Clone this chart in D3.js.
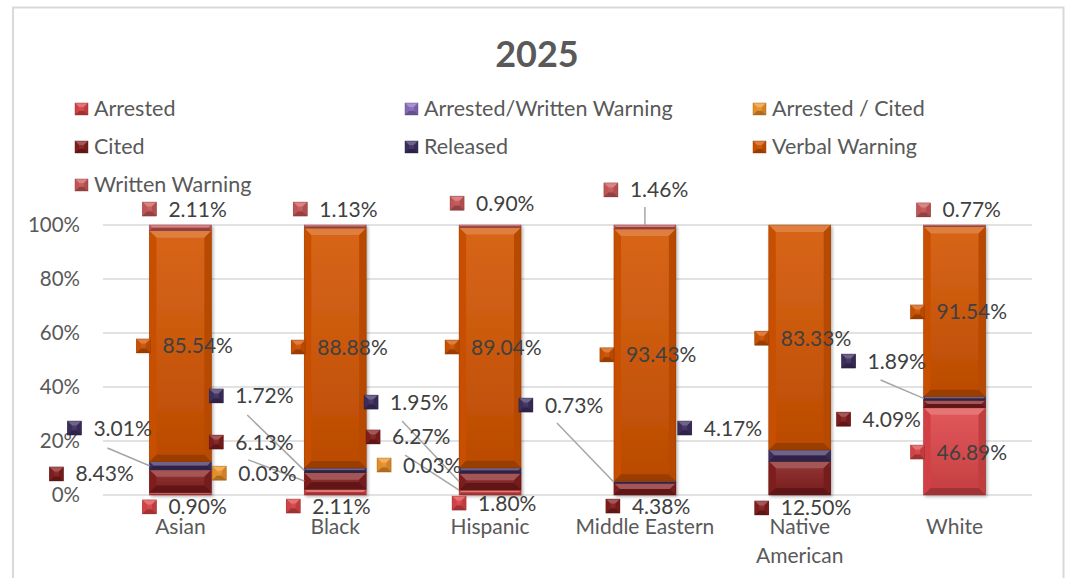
<!DOCTYPE html>
<html><head><meta charset="utf-8">
<script src="https://cdn.jsdelivr.net/npm/d3@7"></script>
<style>html,body{margin:0;padding:0;background:#fff;} svg{display:block;font-family:Lato,"Open Sans",sans-serif;}</style>
</head><body><svg id="c" width="1066" height="578"></svg>
<script>
// ---------------- data ----------------
const title = "2025";
const categories = ["Asian","Black","Hispanic","Middle Eastern","Native American","White"];
const seriesNames = ["Arrested","Arrested/Written Warning","Arrested / Cited","Cited","Released","Verbal Warning","Written Warning"];
const arrested        = [0.90, 2.11, 1.80, null, null, 46.89];
const arrestedWritten = [null, null, null, null, null, null];
const arrestedCited   = [null, 0.03, 0.03, null, null, null];
const cited           = [8.43, 6.13, 6.27, 4.38, 12.50, 4.09];
const released        = [3.01, 1.72, 1.95, 0.73, 4.17, 1.89];
const verbal          = [85.54, 88.88, 89.04, 93.43, 83.33, 91.54];
const written         = [2.11, 1.13, 0.90, 1.46, null, 0.77];
const yTicks = [0, 0.2, 0.4, 0.6, 0.8, 1];
const yTickLabels = ["0%","20%","40%","60%","80%","100%"];

// ---------------- styles / layout ----------------
const colors = ["#de4548","#8b6fc0","#f0962a","#861f1f","#3f2f62","#d35400","#cc5a5a"];
// label placement: [category, series, dx from band centre (px), vertical position (share of axis)]
const labelLayout = [
 [0,6,-31,1.059],[0,5,-37,0.552],[0,4,-106,0.248],[0,3,-124,0.078],[0,0,-31,-0.044],
 [1,6,-35,1.059],[1,5,-37,0.548],[1,4,-119,0.367],[1,3,-119,0.196],[1,2,-116,0.081],[1,0,-42,-0.041],
 [2,6,-33,1.081],[2,5,-38,0.548],[2,4,-119,0.344],[2,3,-117,0.215],[2,2,-106,0.111],[2,0,-31,-0.030],
 [3,6,-34,1.13],[3,5,-38,0.519],[3,4,-119,0.333],[3,3,-32,-0.041],
 [4,5,-38,0.581],[4,4,-115,0.248],[4,3,-38,-0.048],
 [5,6,-31,1.056],[5,5,-37,0.678],[5,4,-106,0.496],[5,3,-111,0.281],[5,0,-37,0.159]
];
// leader lines: [category, series, start dx, start share, to top-centre]
const leaderLayout = [
 [0,4,-73,0.174,false],[1,4,-88,0.296,false],[1,3,-87,0.130,false],
 [2,3,-88,0.274,false],[2,2,-85,0.148,false],[3,4,-88,0.267,false],
 [3,6,0,1.067,true],[5,4,-74,0.426,false]
];

const seriesValues = [arrested, arrestedWritten, arrestedCited, cited, released, verbal, written];
const table = categories.map((c,i)=>{
  const o = {cat:c};
  seriesNames.forEach((s,j)=>{ o[s] = seriesValues[j][i] == null ? 0 : seriesValues[j][i]; });
  return o;
});
const stacked = d3.stack().keys(seriesNames).offset(d3.stackOffsetExpand)(table);

const svg = d3.select("#c");
const defs = svg.append("defs");
const sh = defs.append("filter").attr("id","shadow").attr("x","-20%").attr("y","-20%").attr("width","140%").attr("height","140%");
sh.append("feDropShadow").attr("dx",1.5).attr("dy",1.5).attr("stdDeviation",1.5).attr("flood-color","#000").attr("flood-opacity",0.3);
const fg = defs.append("linearGradient").attr("id","face").attr("x1",0).attr("y1",0).attr("x2",0).attr("y2",1);
fg.append("stop").attr("offset","0%").attr("stop-color","#fff").attr("stop-opacity",0.10);
fg.append("stop").attr("offset","100%").attr("stop-color","#000").attr("stop-opacity",0.12);

// frame
svg.append("rect").attr("x",13).attr("y",7.5).attr("width",1050.5).attr("height",600)
  .attr("fill","none").attr("stroke","#d9d9d9").attr("stroke-width",2);

const x = d3.scaleBand().domain(categories).range([103,1032]).paddingInner(0.6).paddingOuter(0.3);
const y = d3.scaleLinear().domain([0,1]).range([495,225]);

// title
svg.append("text").attr("x",537).attr("y",67).attr("text-anchor","middle")
  .attr("font-size",36).attr("font-weight","bold").attr("fill","#595959").text(title);

// gridlines + y labels
svg.append("g").selectAll("line").data(yTicks).join("line")
  .attr("x1",103).attr("x2",1032).attr("y1",d=>y(d)).attr("y2",d=>y(d))
  .attr("stroke","#d9d9d9").attr("stroke-width",1.5);
svg.append("g").selectAll("text").data(yTicks).join("text")
  .attr("x",80).attr("y",d=>y(d)+7).attr("text-anchor","end")
  .attr("font-size",20.5).attr("fill","#595959").text((d,i)=>yTickLabels[i]);

function bevel(g, x0, y0, w, h, color, b){
  const c = d3.color(color);
  const bb = Math.max(0, Math.min(b, h/2, w/2));
  g.append("rect").attr("x",x0).attr("y",y0).attr("width",w).attr("height",h).attr("fill",c.formatHex());
  g.append("rect").attr("x",x0).attr("y",y0).attr("width",w).attr("height",h).attr("fill","url(#face)");
  if (bb > 0.3){
    const x1=x0+w, y1=y0+h;
    const P = pts=>pts.map(p=>p.join(",")).join(" ");
    g.append("polygon").attr("points",P([[x0,y0],[x1,y0],[x1-bb,y0+bb],[x0+bb,y0+bb]]))
      .attr("fill",d3.interpolateRgb(c.formatHex(),"#ffffff")(0.25));
    g.append("polygon").attr("points",P([[x0,y0],[x0+bb,y0+bb],[x0+bb,y1-bb],[x0,y1]]))
      .attr("fill",c.darker(0.15).formatHex());
    g.append("polygon").attr("points",P([[x1,y0],[x1-bb,y0+bb],[x1-bb,y1-bb],[x1,y1]]))
      .attr("fill",c.darker(0.4).formatHex());
    g.append("polygon").attr("points",P([[x0,y1],[x0+bb,y1-bb],[x1-bb,y1-bb],[x1,y1]]))
      .attr("fill",c.darker(0.9).formatHex());
  }
  g.append("rect").attr("x",x0).attr("y",y0).attr("width",w).attr("height",h)
    .attr("fill","none").attr("stroke",c.darker(1.2).formatHex()).attr("stroke-width",0.6).attr("stroke-opacity",0.7);
}

// bars
const barsG = svg.append("g").attr("filter","url(#shadow)");
stacked.forEach((layer,j)=>{
  layer.forEach((d,i)=>{
    const h = y(d[0]) - y(d[1]);
    if (h <= 0) return;
    bevel(barsG.append("g"), x(categories[i]), y(d[1]), x.bandwidth(), h, colors[j], 7);
  });
});

// category labels
categories.forEach(c=>{
  const t = svg.append("text").attr("x",x(c)+x.bandwidth()/2).attr("y",534).attr("text-anchor","middle")
    .attr("font-size",21).attr("fill","#595959").text(c);
  if (t.node().getComputedTextLength() > 142){
    t.text(null);
    c.split(" ").forEach((w,k)=>t.append("tspan").attr("x",x(c)+x.bandwidth()/2).attr("dy",k?29:0).text(w));
  }
});

// leader lines
leaderLayout.forEach(([ci,si,dx,at,top])=>{
  const c = categories[ci];
  const d = stacked[si][ci];
  const cx = x(c)+x.bandwidth()/2;
  const ex = top ? cx : x(c);
  const ey = top ? y(1) : y((d[0]+d[1])/2);
  svg.append("line").attr("x1",cx+dx).attr("y1",y(at)).attr("x2",ex).attr("y2",ey)
    .attr("stroke","#a6a6a6").attr("stroke-width",1.5);
});

// data labels
labelLayout.forEach(([ci,si,dx,at])=>{
  const c = categories[ci];
  const v = seriesValues[si][ci];
  if (v == null) return;
  const mx = x(c)+x.bandwidth()/2+dx, my = y(at);
  bevel(svg.append("g"), mx-7, my-7, 14, 14, colors[si], 4.5);
  svg.append("text").attr("x",mx+19).attr("y",my+7.5).attr("font-size",21).attr("fill","#404040")
    .text(v.toFixed(2)+"%");
});

// legend
const legX = [75,405,753], legY = [116,154,192];
seriesNames.forEach((s,j)=>{
  const lx = legX[j%3], ly = legY[Math.floor(j/3)];
  bevel(svg.append("g"), lx, ly-13, 13, 12, colors[j], 4);
  svg.append("text").attr("x",lx+19).attr("y",ly).attr("font-size",21.5).attr("fill","#595959").text(s);
});
</script></body></html>
